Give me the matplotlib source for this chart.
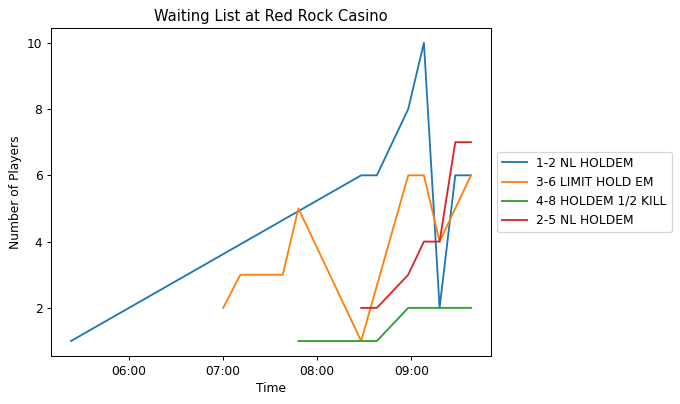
import matplotlib
matplotlib.use("Agg")
import matplotlib.pyplot as plt
import matplotlib.dates as mdates
import pandas as pd

day = "2023-01-01 "

nl12_times = ["05:23", "08:28", "08:38", "08:58", "09:08", "09:18", "09:28", "09:38"]
nl12_players = [1, 6, 6, 8, 10, 2, 6, 6]

limit36_times = ["07:00", "07:11", "07:38", "07:48", "08:28", "08:58", "09:08", "09:18", "09:38"]
limit36_players = [2, 3, 3, 5, 1, 6, 6, 4, 6]

kill48_times = ["07:48", "08:38", "08:58", "09:38"]
kill48_players = [1, 1, 2, 2]

nl25_times = ["08:28", "08:38", "08:58", "09:08", "09:18", "09:28", "09:38"]
nl25_players = [2, 2, 3, 4, 4, 7, 7]

series = [
    ("1-2 NL HOLDEM", nl12_times, nl12_players),
    ("3-6 LIMIT HOLD EM", limit36_times, limit36_players),
    ("4-8 HOLDEM 1/2 KILL", kill48_times, kill48_players),
    ("2-5 NL HOLDEM", nl25_times, nl25_players),
]

# the reference looks like a tight-cropped figure scaled down, so use a lower dpi
dpi = 88.5
fig, ax = plt.subplots(figsize=(680 / dpi, 404 / dpi), dpi=dpi)
fig.subplots_adjust(left=0.075, right=0.722, top=0.931, bottom=0.119)

for name, times, players in series:
    t = pd.to_datetime([day + s for s in times])
    ax.plot(t, players, label=name)

ax.xaxis.set_major_locator(mdates.HourLocator())
ax.xaxis.set_major_formatter(mdates.DateFormatter("%H:%M"))

ax.set_xlabel("Time")
ax.set_ylabel("Number of Players")
ax.set_title("Waiting List at Red Rock Casino")
ax.legend(loc="center left", bbox_to_anchor=(1, 0.5))

fig.savefig("out.png", dpi=dpi)
